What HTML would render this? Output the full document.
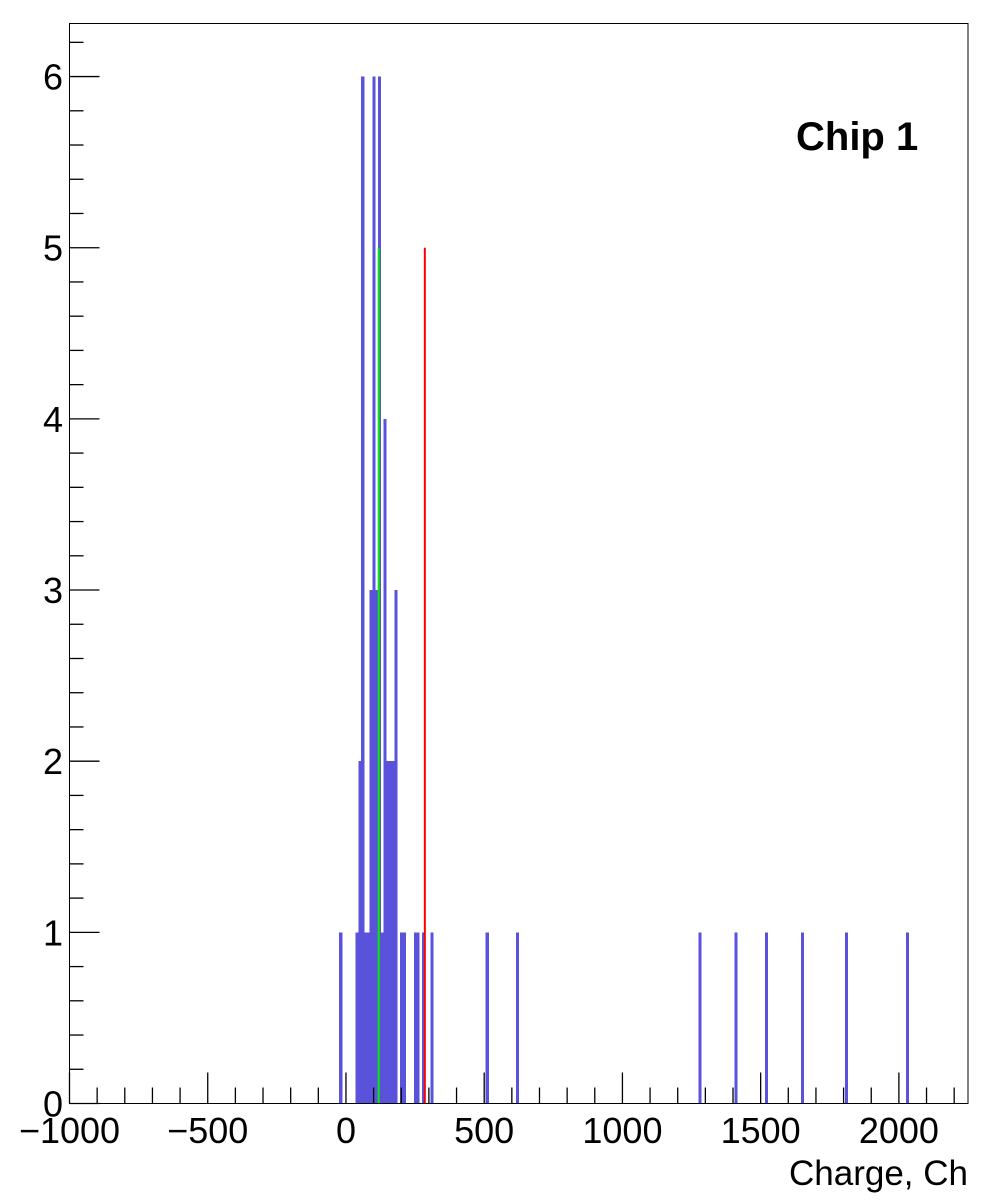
<!DOCTYPE html>
<html><head><meta charset="utf-8"><style>
html,body{margin:0;padding:0;background:#fff;}
svg{display:block;font-family:"Liberation Sans",sans-serif;}
</style></head><body>
<svg id="chart" width="1000" height="1200" viewBox="0 0 1000 1200"></svg>
<script>
// Histogram data (bin lower edge, counts), bin width 10
const binEdges = [-20,40,50,60,70,80,90,100,110,120,130,140,150,160,170,180,200,210,250,260,280,310,510,620,1280,1410,1520,1650,1810,2030];
const binCounts = [1,1,2,6,1,1,3,6,3,6,1,4,2,2,2,3,1,1,1,1,1,1,1,1,1,1,1,1,1,1];
const binWidth = 10;
const markerValues = [123, 290];
const markerHeights = [5, 5];
const markerColors = ['#00ee00','#ff0000'];
const xTicks = [-1000,-500,0,500,1000,1500,2000];
const yTicks = [0,1,2,3,4,5,6];

const X0=69.5, X1=968, Y0=1103.5, Y1=23.5;
const xMin=-1000, xMax=2250, yMin=0, yMax=6.31;
const sx=v=>X0+(v-xMin)/(xMax-xMin)*(X1-X0);
const sy=v=>Y0-(v-yMin)/(yMax-yMin)*(Y0-Y1);
const OFF=-1.3;
const NS='http://www.w3.org/2000/svg';
const svg=document.getElementById('chart');
function mk(tag,attrs){const e=document.createElementNS(NS,tag);for(const k in attrs)e.setAttribute(k,attrs[k]);svg.appendChild(e);return e;}

// bars
binEdges.forEach((b,i)=>{
  const x=sx(b)+OFF, w=sx(b+binWidth)-sx(b)+0.4;
  const r=mk('rect',{x:x,y:sy(binCounts[i]),width:w,height:Y0-sy(binCounts[i]),fill:'#5a52db','shape-rendering':'crispEdges'});
  
  
});
// markers
markerValues.forEach((v,i)=>{
  const l=mk('line',{x1:sx(v)+OFF,x2:sx(v)+OFF,y1:sy(markerHeights[i]),y2:Y0,stroke:markerColors[i],'stroke-width':2});
  
  
});
// frame
const fr=mk('rect',{x:X0,y:Y1,width:X1-X0,height:Y0-Y1,fill:'none',stroke:'#000','stroke-width':1});


// x ticks
for(let v=-1000;v<=2200;v+=100){
  const major=(v%500===0);
  const t=mk('line',{x1:sx(v),x2:sx(v),y1:Y0,y2:Y0-(major?31:16),stroke:'#000','stroke-width':1.3});
  
  
}
xTicks.forEach(v=>{
  const t=mk('text',{x:sx(v),y:1143,'font-size':36,'text-anchor':'middle',fill:'#000'});
  t.textContent=(v<0?'\u2212'+(-v):String(v));
  
  
});
// y ticks
for(let k=0;k<=31;k++){
  const v=k*0.2; if(v>yMax)break;
  const major=(k%5===0);
  const t=mk('line',{x1:X0,x2:X0+(major?30:14),y1:sy(v),y2:sy(v),stroke:'#000','stroke-width':1.3});
  
  
}
yTicks.forEach(v=>{
  const t=mk('text',{x:63,y:sy(v)+13,'font-size':36,'text-anchor':'end',fill:'#000'});
  t.textContent=String(v);
  
  
});
const xt=mk('text',{x:968,y:1185,'font-size':35,'text-anchor':'end',fill:'#000'});
xt.textContent='Charge, Ch';


const ct=mk('text',{x:796,y:150,'font-size':40,'font-weight':'bold',fill:'#000'});
ct.textContent='Chip 1';


</script>
</body></html>
